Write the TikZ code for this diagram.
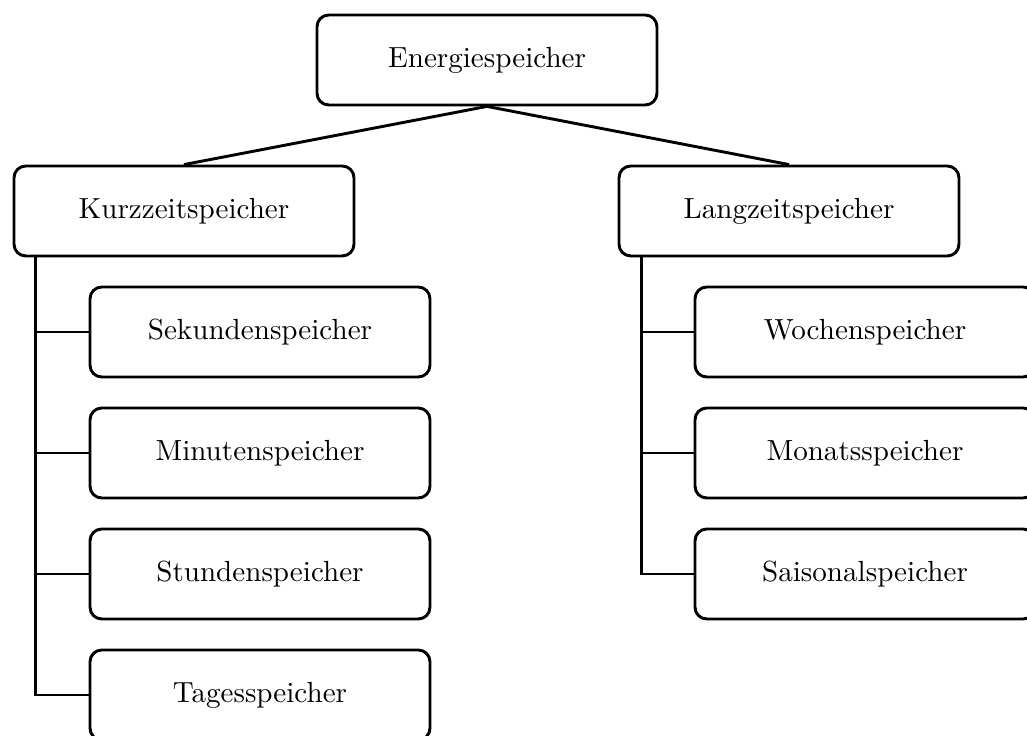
\documentclass[tikz,border=0pt]{standalone}
\usetikzlibrary{positioning}
\begin{document}
\begin{tikzpicture}[
  x=0.3436pt, y=-0.3436pt,
  box/.style={draw, line width=1pt, rounded corners=4pt,
    minimum width=116.8pt, minimum height=30.9pt, inner sep=0pt,
    align=center, font=\normalsize},
  link/.style={line width=1pt}
]
% page frame
\useasboundingbox (0,0) rectangle (1027,736);
\clip (0,0) rectangle (1027,736);

% root and the two main groups
\node[box] (E) at (487,60)  {Energiespeicher};
\node[box] (K) at (184,211) {Kurzzeitspeicher};
\node[box] (L) at (789,211) {Langzeitspeicher};

% short-term storage
\node[box] (Sek) at (260,332) {Sekundenspeicher};
\node[box] (Min) at (260,453) {Minutenspeicher};
\node[box] (Stu) at (260,574) {Stundenspeicher};
\node[box] (Tag) at (260,695) {Tagesspeicher};

% long-term storage
\node[box] (Woc) at (865,332) {Wochenspeicher};
\node[box] (Mon) at (865,453) {Monatsspeicher};
\node[box] (Sai) at (865,574) {Saisonalspeicher};

% root links
\draw[link] (E.south) -- (K.north);
\draw[link] (E.south) -- (L.north);

% trunks
\coordinate (kt) at ([xshift=7.9pt]K.south west);
\coordinate (lt) at ([xshift=8.2pt]L.south west);

\draw[link] (kt) |- (Tag.west);
\foreach \n in {Sek,Min,Stu}
  \draw[link] (kt |- \n.west) -- (\n.west);

\draw[link] (lt) |- (Sai.west);
\foreach \n in {Woc,Mon}
  \draw[link] (lt |- \n.west) -- (\n.west);
\end{tikzpicture}
\end{document}
